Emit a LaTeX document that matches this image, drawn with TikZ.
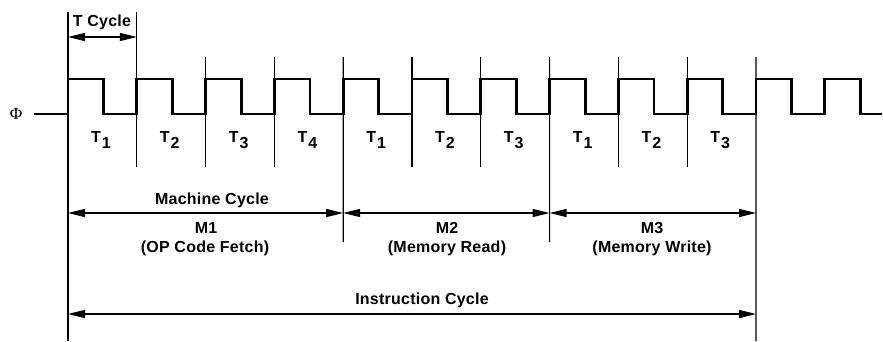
\documentclass[tikz,border=0pt]{standalone}
\usepackage{fontspec}
\setmainfont{Liberation Sans}[LetterSpace=1.5]
\newfontfamily\phifont{Liberation Serif}
\usetikzlibrary{arrows.meta}
\begin{document}
\begin{tikzpicture}[x=1pt,y=-1pt,
  wave/.style={line width=2.8pt,line join=miter},
  tick/.style={line width=1.2pt},
  dim/.style={line width=1.3pt,{Triangle[length=17pt,width=8pt]}-{Triangle[length=17pt,width=8pt]}},
  lbl/.style={font=\fontsize{16}{18}\selectfont\bfseries,inner sep=0pt},
  tl/.style={font=\fontsize{16}{18}\selectfont\bfseries,inner sep=0pt}]
\useasboundingbox (0,0) rectangle (883,341);
% clock waveform
\draw[wave] (34,114) foreach \k in {0,...,11} { -- ({68+68.8*\k},114) -- ({68+68.8*\k},79) -- ({103.5+68.8*\k},79) -- ({103.5+68.8*\k},114) } -- (882,114);
\node[font=\fontsize{17}{19}\phifont\selectfont,inner sep=0pt] (phi) at (16,114) {Φ};
% vertical tick lines
\foreach \k in {0,...,10} {
  \coordinate (v\k) at ({68+68.8*\k},57);
}
\coordinate (v0t) at (68,12);
\coordinate (v1t) at (136.8,12);
\coordinate (v0b) at (68,341);
\coordinate (v1b) at (136.8,167);
\coordinate (v4b) at (343.2,242);
\coordinate (v7b) at (549.6,242);
\coordinate (v10b) at (756,341);
\draw[tick] (v0t) -- (v0b);
\draw[tick] (v1t) -- (v1b);
\foreach \k in {2,3,5,6,8,9} { \draw[tick] (v\k) -- (v\k |- 0,167); }
\draw[tick] (v4) -- (v4b);
\draw[tick] (v7) -- (v7b);
\draw[tick] (v10) -- (v10b);
% T labels
\foreach \k/\n in {0/1,1/2,2/3,3/4,4/1,5/2,6/3,7/1,8/2,9/3} {
  \node[tl] (t\k) at ({101+68.8*\k},140) {T\kern1pt\raisebox{-6pt}{\n}};
}
% T cycle
\node[lbl] (tc) at (102,22) {T Cycle};
\coordinate (tca) at (68,37);
\coordinate (tcb) at (136.8,37);
\draw[dim] (tca) -- (tcb);
% machine cycles
\node[lbl] (mc) at (212,200) {Machine Cycle};
\coordinate (ma) at (68,213);
\coordinate (mb) at (343.2,213);
\coordinate (mcc) at (549.6,213);
\coordinate (md) at (756,213);
\draw[dim] (ma) -- (mb);
\draw[dim] (mb) -- (mcc);
\draw[dim] (mcc) -- (md);
\node[lbl] (m1) at (206,228) {M1};
\node[lbl] (m1b) at (205,248) {(OP Code Fetch)};
\node[lbl] (m2) at (447,228) {M2};
\node[lbl] (m2b) at (447,248) {(Memory Read)};
\node[lbl] (m3) at (652,228) {M3};
\node[lbl] (m3b) at (652,248) {(Memory Write)};
% instruction cycle
\node[lbl] (ic) at (422,300) {Instruction Cycle};
\coordinate (ia) at (68,314);
\coordinate (ib) at (756,314);
\draw[dim] (ia) -- (ib);
\end{tikzpicture}
\end{document}
